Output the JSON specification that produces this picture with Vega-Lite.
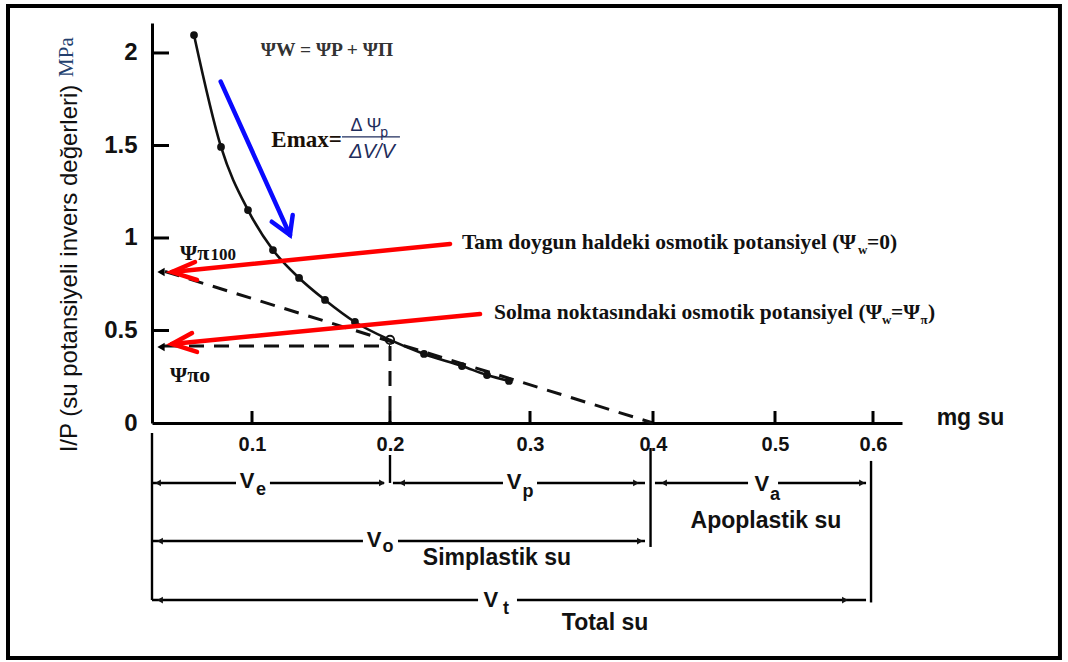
{
  "$schema": "https://vega.github.io/schema/vega-lite/v6.json",
  "width": 750,
  "height": 400,
  "autosize": {"type": "none"},
  "padding": {"left": 152, "top": 23, "right": 166, "bottom": 239},
  "background": "white",
  "config": {
    "view": {"stroke": null},
    "axis": {"grid": false, "ticks": false, "domainColor": "#000", "labelColor": "#111", "titleColor": "#111"}
  },
  "datasets": {
    "cerceve": [{"mg": -0.144, "mg2": 0.7934, "ip": 2.254, "ip2": -1.27}],
    "x_tikleri": [
      {"tik": "x-0.1", "mg": 0.1, "ip": 0},
      {"tik": "x-0.1", "mg": 0.1, "ip": 0.065},
      {"tik": "x-0.2", "mg": 0.2, "ip": 0},
      {"tik": "x-0.2", "mg": 0.2, "ip": 0.065},
      {"tik": "x-0.3", "mg": 0.3, "ip": 0},
      {"tik": "x-0.3", "mg": 0.3, "ip": 0.065},
      {"tik": "x-0.4", "mg": 0.4, "ip": 0},
      {"tik": "x-0.4", "mg": 0.4, "ip": 0.065},
      {"tik": "x-0.5", "mg": 0.5, "ip": 0},
      {"tik": "x-0.5", "mg": 0.5, "ip": 0.065},
      {"tik": "x-0.6", "mg": 0.6, "ip": 0},
      {"tik": "x-0.6", "mg": 0.6, "ip": 0.065}
    ],
    "y_tikleri": [
      {"mg": 0.0085, "ip": 0.5},
      {"mg": 0.0085, "ip": 1},
      {"mg": 0.0085, "ip": 1.5},
      {"mg": 0.0085, "ip": 2}
    ],
    "egri": [
      {"mg": 0.042, "ip": 2.097, "nokta": "dolu"},
      {"mg": 0.069, "ip": 1.492, "nokta": "dolu"},
      {"mg": 0.096, "ip": 1.151, "nokta": "dolu"},
      {"mg": 0.1152, "ip": 0.935, "nokta": "dolu"},
      {"mg": 0.1341, "ip": 0.784, "nokta": "dolu"},
      {"mg": 0.1529, "ip": 0.665, "nokta": "dolu"},
      {"mg": 0.1746, "ip": 0.546, "nokta": "dolu"},
      {"mg": 0.2, "ip": 0.449, "nokta": "bos"},
      {"mg": 0.2243, "ip": 0.373, "nokta": "dolu"},
      {"mg": 0.2514, "ip": 0.308, "nokta": "dolu"},
      {"mg": 0.2693, "ip": 0.259, "nokta": "dolu"},
      {"mg": 0.285, "ip": 0.227, "nokta": "dolu"}
    ],
    "kesikli": [
      {"cizgi": "ekstrapolasyon", "sira": 1, "mg": 0.013, "ip": 0.819},
      {"cizgi": "ekstrapolasyon", "sira": 2, "mg": 0.4, "ip": 0},
      {"cizgi": "yatay", "sira": 1, "mg": 0.012, "ip": 0.416},
      {"cizgi": "yatay", "sira": 2, "mg": 0.2, "ip": 0.416},
      {"cizgi": "dikey", "sira": 1, "mg": 0.2, "ip": 0.416},
      {"cizgi": "dikey", "sira": 2, "mg": 0.2, "ip": 0}
    ],
    "oklar": [
      {"grup": "mavi", "ok": "mavi-govde", "sira": 1, "mg": 0.0687, "ip": 1.845},
      {"grup": "mavi", "ok": "mavi-govde", "sira": 2, "mg": 0.1275, "ip": 1.016},
      {"grup": "mavi", "ok": "mavi-uc", "sira": 1, "mg": 0.1143, "ip": 1.088},
      {"grup": "mavi", "ok": "mavi-uc", "sira": 2, "mg": 0.1275, "ip": 1.016},
      {"grup": "mavi", "ok": "mavi-uc", "sira": 3, "mg": 0.1295, "ip": 1.124},
      {"grup": "kirmizi", "ok": "k1-govde", "sira": 1, "mg": 0.2429, "ip": 0.968},
      {"grup": "kirmizi", "ok": "k1-govde", "sira": 2, "mg": 0.02, "ip": 0.816},
      {"grup": "kirmizi", "ok": "k1-uc", "sira": 1, "mg": 0.043, "ip": 0.87},
      {"grup": "kirmizi", "ok": "k1-uc", "sira": 2, "mg": 0.02, "ip": 0.816},
      {"grup": "kirmizi", "ok": "k1-uc", "sira": 3, "mg": 0.045, "ip": 0.773},
      {"grup": "kirmizi", "ok": "k2-govde", "sira": 1, "mg": 0.2643, "ip": 0.589},
      {"grup": "kirmizi", "ok": "k2-govde", "sira": 2, "mg": 0.02, "ip": 0.427},
      {"grup": "kirmizi", "ok": "k2-uc", "sira": 1, "mg": 0.04, "ip": 0.486},
      {"grup": "kirmizi", "ok": "k2-uc", "sira": 2, "mg": 0.02, "ip": 0.427},
      {"grup": "kirmizi", "ok": "k2-uc", "sira": 3, "mg": 0.045, "ip": 0.384}
    ],
    "eksen_isaret": [
      {"isaret": "Ψπ100", "mg": 0.009, "ip": 0.816},
      {"isaret": "Ψπo", "mg": 0.009, "ip": 0.411}
    ],
    "cizgiler": [
      {"parca": "Ve", "mg": 0, "mg2": 0.084, "ip": -0.324, "ip2": -0.324},
      {"parca": "Ve", "mg": 0.113, "mg2": 0.1957, "ip": -0.324, "ip2": -0.324},
      {"parca": "Vp", "mg": 0.2021, "mg2": 0.2807, "ip": -0.324, "ip2": -0.324},
      {"parca": "Vp", "mg": 0.3057, "mg2": 0.3935, "ip": -0.324, "ip2": -0.324},
      {"parca": "Va", "mg": 0.4016, "mg2": 0.4779, "ip": -0.324, "ip2": -0.324},
      {"parca": "Va", "mg": 0.5031, "mg2": 0.5929, "ip": -0.324, "ip2": -0.324},
      {"parca": "Vo", "mg": 0, "mg2": 0.1804, "ip": -0.638, "ip2": -0.638},
      {"parca": "Vo", "mg": 0.2057, "mg2": 0.3935, "ip": -0.638, "ip2": -0.638},
      {"parca": "Vt", "mg": 0, "mg2": 0.2629, "ip": -0.957, "ip2": -0.957},
      {"parca": "Vt", "mg": 0.2907, "mg2": 0.5929, "ip": -0.957, "ip2": -0.957},
      {"parca": "sinir", "mg": 0, "mg2": 0, "ip": -0.054, "ip2": -0.957},
      {"parca": "sinir", "mg": 0.2, "mg2": 0.2, "ip": -0.173, "ip2": -0.324},
      {"parca": "sinir", "mg": 0.398, "mg2": 0.398, "ip": -0.135, "ip2": -0.67},
      {"parca": "sinir", "mg": 0.598, "mg2": 0.598, "ip": -0.205, "ip2": -0.97}
    ],
    "ok_uclari": [
      {"yon": "sol", "mg": 0.006, "ip": -0.324},
      {"yon": "sol", "mg": 0.2086, "ip": -0.324},
      {"yon": "sol", "mg": 0.409, "ip": -0.324},
      {"yon": "sol", "mg": 0.008, "ip": -0.638},
      {"yon": "sol", "mg": 0.008, "ip": -0.957},
      {"yon": "sag", "mg": 0.1942, "ip": -0.324},
      {"yon": "sag", "mg": 0.3862, "ip": -0.324},
      {"yon": "sag", "mg": 0.5888, "ip": -0.324},
      {"yon": "sag", "mg": 0.3894, "ip": -0.638},
      {"yon": "sag", "mg": 0.5714, "ip": -0.957}
    ],
    "hacim_v": [
      {"metin": "V", "mg": 0.095, "ip": -0.314},
      {"metin": "V", "mg": 0.2886, "ip": -0.319},
      {"metin": "V", "mg": 0.4893, "ip": -0.33},
      {"metin": "V", "mg": 0.1884, "ip": -0.632},
      {"metin": "V", "mg": 0.2721, "ip": -0.957}
    ],
    "hacim_alt": [
      {"metin": "e", "mg": 0.1065, "ip": -0.362},
      {"metin": "p", "mg": 0.2986, "ip": -0.373},
      {"metin": "a", "mg": 0.5, "ip": -0.389},
      {"metin": "o", "mg": 0.1986, "ip": -0.67},
      {"metin": "t", "mg": 0.2829, "ip": -1.005}
    ],
    "su_turleri": [
      {"metin": "Simplastik su", "mg": 0.2764, "ip": -0.73},
      {"metin": "Apoplastik su", "mg": 0.4926, "ip": -0.53},
      {"metin": "Total su", "mg": 0.361, "ip": -1.081}
    ],
    "psi_etiket": [
      {"metin": "Ψπ", "mg": 0.028, "ip": 0.919},
      {"metin": "Ψπo", "mg": 0.018, "ip": 0.259}
    ],
    "psi_alt": [
      {"metin": "100", "mg": 0.0585, "ip": 0.908}
    ],
    "denklem": [{"metin": "ΨW = ΨP + ΨΠ", "mg": 0.1543, "ip": 2.016}],
    "emax": [{"metin": "Emax=", "mg": 0.1652, "ip": 1.53}],
    "kesir_ust": [{"metin": "Δ Ψ", "mg": 0.1826, "ip": 1.605}],
    "kesir_ust_alt": [{"metin": "p", "mg": 0.1957, "ip": 1.565}],
    "kesir_cizgi": [{"mg": 0.1652, "mg2": 0.2071, "ip": 1.546, "ip2": 1.546}],
    "kesir_alt": [{"metin": "ΔV/V", "mg": 0.187, "ip": 1.465}],
    "aciklama": [
      {"metin": "Tam doygun haldeki osmotik potansiyel (Ψ", "mg": 0.2514, "ip": 0.973},
      {"metin": "=0)", "mg": 0.5939, "ip": 0.973},
      {"metin": "Solma noktasındaki osmotik potansiyel (Ψ", "mg": 0.2743, "ip": 0.595},
      {"metin": "=Ψ", "mg": 0.6186, "ip": 0.595},
      {"metin": ")", "mg": 0.6569, "ip": 0.595}
    ],
    "aciklama_alt": [
      {"metin": "w", "mg": 0.5847, "ip": 0.935},
      {"metin": "w", "mg": 0.6093, "ip": 0.557},
      {"metin": "π", "mg": 0.6491, "ip": 0.557}
    ],
    "birim": [{"metin": "MPa", "mg": -0.085, "ip": 1.978}]
  },
  "encoding": {
    "x": {
      "field": "mg",
      "type": "quantitative",
      "scale": {"domain": [0, 0.1, 0.2, 0.3, 0.4, 0.5, 0.6, 0.63], "range": [0, 100, 238, 378, 501, 623, 721, 750], "zero": false, "nice": false},
      "axis": {
        "values": [0.1, 0.2, 0.3, 0.4, 0.5, 0.6],
        "format": "~g",
        "title": "mg su",
        "titleX": 818,
        "titleY": -6,
        "titleAlign": "center",
        "titleBaseline": "middle",
        "titleAngle": 0,
        "titleFont": "Liberation Sans",
        "titleFontSize": 23,
        "titleFontWeight": "bold",
        "domainWidth": 3,
        "labelFont": "Liberation Sans",
        "labelFontSize": 20,
        "labelFontWeight": "bold",
        "labelPadding": 11,
        "labelFlush": false,
        "labelOverlap": false
      }
    },
    "y": {
      "field": "ip",
      "type": "quantitative",
      "scale": {"domain": [0, 2.162], "zero": false, "nice": false},
      "axis": {
        "values": [0, 0.5, 1, 1.5, 2],
        "format": "~g",
        "title": "I/P (su potansiyeli invers değerleri)",
        "titleX": -71,
        "titleY": 245,
        "titleAngle": 270,
        "titleAlign": "center",
        "titleBaseline": "bottom",
        "titleFont": "Liberation Sans",
        "titleFontSize": 24,
        "titleFontWeight": "normal",
        "domainWidth": 3,
        "labelFont": "Liberation Sans",
        "labelFontSize": 24,
        "labelFontWeight": "bold",
        "labelPadding": 15,
        "labelFlush": false,
        "labelOverlap": false
      }
    }
  },
  "layer": [
    {
      "data": {"name": "cerceve"},
      "mark": {"type": "rect", "filled": false, "stroke": "#000", "strokeWidth": 4},
      "encoding": {"x2": {"field": "mg2"}, "y2": {"field": "ip2"}}
    },
    {
      "data": {"name": "kesikli"},
      "mark": {"type": "line", "color": "#111", "strokeWidth": 3, "strokeDash": [15, 10]},
      "encoding": {"detail": {"field": "cizgi"}, "order": {"field": "sira"}}
    },
    {
      "data": {"name": "egri"},
      "mark": {"type": "line", "color": "#111", "strokeWidth": 2.6, "interpolate": "monotone"},
      "encoding": {}
    },
    {
      "data": {"name": "egri"},
      "transform": [{"filter": "datum.nokta === 'dolu'"}],
      "mark": {"type": "point", "filled": true, "color": "#111", "size": 60, "opacity": 1},
      "encoding": {}
    },
    {
      "data": {"name": "egri"},
      "transform": [{"filter": "datum.nokta === 'bos'"}],
      "mark": {"type": "point", "filled": false, "color": "#111", "size": 70, "strokeWidth": 1.8, "opacity": 1},
      "encoding": {}
    },
    {
      "data": {"name": "oklar"},
      "transform": [{"filter": "datum.grup === 'mavi'"}],
      "mark": {"type": "line", "color": "#0a0aff", "strokeWidth": 4.5, "strokeCap": "round"},
      "encoding": {"detail": {"field": "ok"}, "order": {"field": "sira"}}
    },
    {
      "data": {"name": "oklar"},
      "transform": [{"filter": "datum.grup === 'kirmizi'"}],
      "mark": {"type": "line", "color": "#ff0000", "strokeWidth": 4.5, "strokeCap": "round"},
      "encoding": {"detail": {"field": "ok"}, "order": {"field": "sira"}}
    },
    {
      "data": {"name": "eksen_isaret"},
      "mark": {"type": "point", "shape": "triangle-left", "filled": true, "color": "#000", "size": 70, "opacity": 1},
      "encoding": {}
    },
    {
      "data": {"name": "cizgiler"},
      "mark": {"type": "rule", "color": "#000", "strokeWidth": 2.4},
      "encoding": {"x2": {"field": "mg2"}, "y2": {"field": "ip2"}}
    },
    {
      "data": {"name": "ok_uclari"},
      "transform": [{"filter": "datum.yon === 'sol'"}],
      "mark": {"type": "point", "shape": "triangle-left", "filled": true, "color": "#111", "size": 45, "opacity": 1},
      "encoding": {}
    },
    {
      "data": {"name": "ok_uclari"},
      "transform": [{"filter": "datum.yon === 'sag'"}],
      "mark": {"type": "point", "shape": "triangle-right", "filled": true, "color": "#111", "size": 45, "opacity": 1},
      "encoding": {}
    },
    {
      "data": {"name": "hacim_v"},
      "mark": {"type": "text", "font": "Liberation Sans", "fontSize": 22, "fontWeight": "bold", "color": "#111", "align": "center", "baseline": "middle"},
      "encoding": {"text": {"field": "metin"}}
    },
    {
      "data": {"name": "hacim_alt"},
      "mark": {"type": "text", "font": "Liberation Sans", "fontSize": 18, "fontWeight": "bold", "color": "#111", "align": "center", "baseline": "middle"},
      "encoding": {"text": {"field": "metin"}}
    },
    {
      "data": {"name": "su_turleri"},
      "mark": {"type": "text", "font": "Liberation Sans", "fontSize": 23, "fontWeight": "bold", "color": "#111", "align": "center", "baseline": "middle"},
      "encoding": {"text": {"field": "metin"}}
    },
    {
      "data": {"name": "psi_etiket"},
      "mark": {"type": "text", "font": "Liberation Serif", "fontSize": 22, "fontWeight": "bold", "color": "#111", "align": "left", "baseline": "middle"},
      "encoding": {"text": {"field": "metin"}}
    },
    {
      "data": {"name": "psi_alt"},
      "mark": {"type": "text", "font": "Liberation Serif", "fontSize": 17, "fontWeight": "bold", "color": "#111", "align": "left", "baseline": "middle"},
      "encoding": {"text": {"field": "metin"}}
    },
    {
      "data": {"name": "denklem"},
      "mark": {"type": "text", "font": "Liberation Serif", "fontSize": 19.5, "fontWeight": "bold", "color": "#333", "align": "center", "baseline": "middle"},
      "encoding": {"text": {"field": "metin"}}
    },
    {
      "data": {"name": "emax"},
      "mark": {"type": "text", "font": "Liberation Serif", "fontSize": 23, "fontWeight": "bold", "color": "#1a1008", "align": "right", "baseline": "middle"},
      "encoding": {"text": {"field": "metin"}}
    },
    {
      "data": {"name": "kesir_ust"},
      "mark": {"type": "text", "font": "Liberation Sans", "fontSize": 18, "color": "#1f2d5c", "align": "center", "baseline": "middle"},
      "encoding": {"text": {"field": "metin"}}
    },
    {
      "data": {"name": "kesir_ust_alt"},
      "mark": {"type": "text", "font": "Liberation Sans", "fontSize": 14, "color": "#1f2d5c", "align": "center", "baseline": "middle"},
      "encoding": {"text": {"field": "metin"}}
    },
    {
      "data": {"name": "kesir_cizgi"},
      "mark": {"type": "rule", "color": "#1f2d5c", "strokeWidth": 1.2},
      "encoding": {"x2": {"field": "mg2"}, "y2": {"field": "ip2"}}
    },
    {
      "data": {"name": "kesir_alt"},
      "mark": {"type": "text", "font": "Liberation Sans", "fontSize": 20, "fontStyle": "italic", "color": "#1f2d5c", "align": "center", "baseline": "middle"},
      "encoding": {"text": {"field": "metin"}}
    },
    {
      "data": {"name": "aciklama"},
      "mark": {"type": "text", "font": "Liberation Serif", "fontSize": 21.5, "fontWeight": "bold", "color": "#111", "align": "left", "baseline": "middle"},
      "encoding": {"text": {"field": "metin"}}
    },
    {
      "data": {"name": "aciklama_alt"},
      "mark": {"type": "text", "font": "Liberation Serif", "fontSize": 13, "fontWeight": "bold", "color": "#111", "align": "left", "baseline": "middle"},
      "encoding": {"text": {"field": "metin"}}
    },
    {
      "data": {"name": "birim"},
      "mark": {"type": "text", "font": "Liberation Serif", "fontSize": 21, "color": "#23406e", "align": "center", "baseline": "middle", "angle": 270},
      "encoding": {"text": {"field": "metin"}}
    },
    {
      "data": {"name": "x_tikleri"},
      "mark": {"type": "rule", "color": "#000", "strokeWidth": 3},
      "encoding": {"x": {"field": "mg", "type": "quantitative", "aggregate": "min"}, "x2": {"field": "mg", "aggregate": "max"}, "y": {"field": "ip", "type": "quantitative", "aggregate": "min"}, "y2": {"field": "ip", "aggregate": "max"}, "detail": {"field": "tik"}}
    },
    {
      "data": {"name": "y_tikleri"},
      "mark": {"type": "tick", "orient": "horizontal", "size": 17, "thickness": 3, "color": "#000", "opacity": 1},
      "encoding": {}
    }
  ]
}
